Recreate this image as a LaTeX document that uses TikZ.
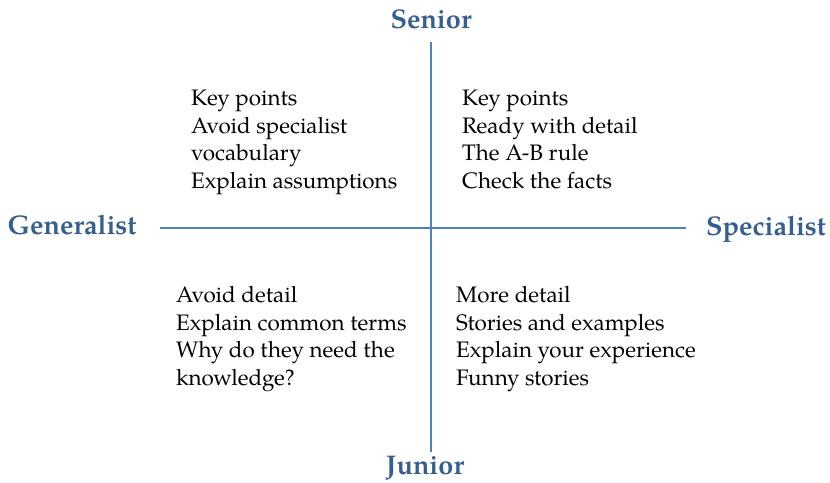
\documentclass[tikz,border=0pt]{standalone}
\usepackage{fontspec}
\setmainfont{TeX Gyre Pagella}
\definecolor{headblue}{HTML}{365F91}
\definecolor{lineblue}{HTML}{4F81BD}
\begin{document}
\begin{tikzpicture}[x=1pt,y=-1pt,
  axislabel/.style={font=\fontsize{27}{32}\selectfont\bfseries, text=headblue, inner sep=0},
  quad/.style={font=\fontsize{22.4}{27.6}\selectfont, align=left, anchor=north west, inner sep=0},
  axis/.style={draw=lineblue, line width=1.2pt}]
\useasboundingbox[fill=white] (0,0) rectangle (830,482);
\node[axislabel] (senior) at (431,19) {Senior};
\node[axislabel] (junior) at (425,468) {Junior};
\node[axislabel] (gen) at (72,225) {Generalist};
\node[axislabel] (spec) at (766,229) {Specialist};
\coordinate (vtop) at (431,42);
\coordinate (vbot) at (431,452);
\coordinate (hl) at (160,228);
\coordinate (hr) at (686,228);
\draw[axis] (vtop) -- (vbot);
\draw[axis] (hl) -- (hr);
\node[quad] (tl) at (191,90) {Key points\\Avoid specialist\\vocabulary\\Explain assumptions};
\node[quad] (tr) at (462,90) {Key points\\Ready with detail\\The A-B rule\\Check the facts};
\node[quad] (bl) at (176,286) {Avoid detail\\Explain common terms\\Why do they need the\\knowledge?};
\node[quad] (br) at (456,286) {More detail\\Stories and examples\\Explain your experience\\Funny stories};
\end{tikzpicture}
\end{document}
